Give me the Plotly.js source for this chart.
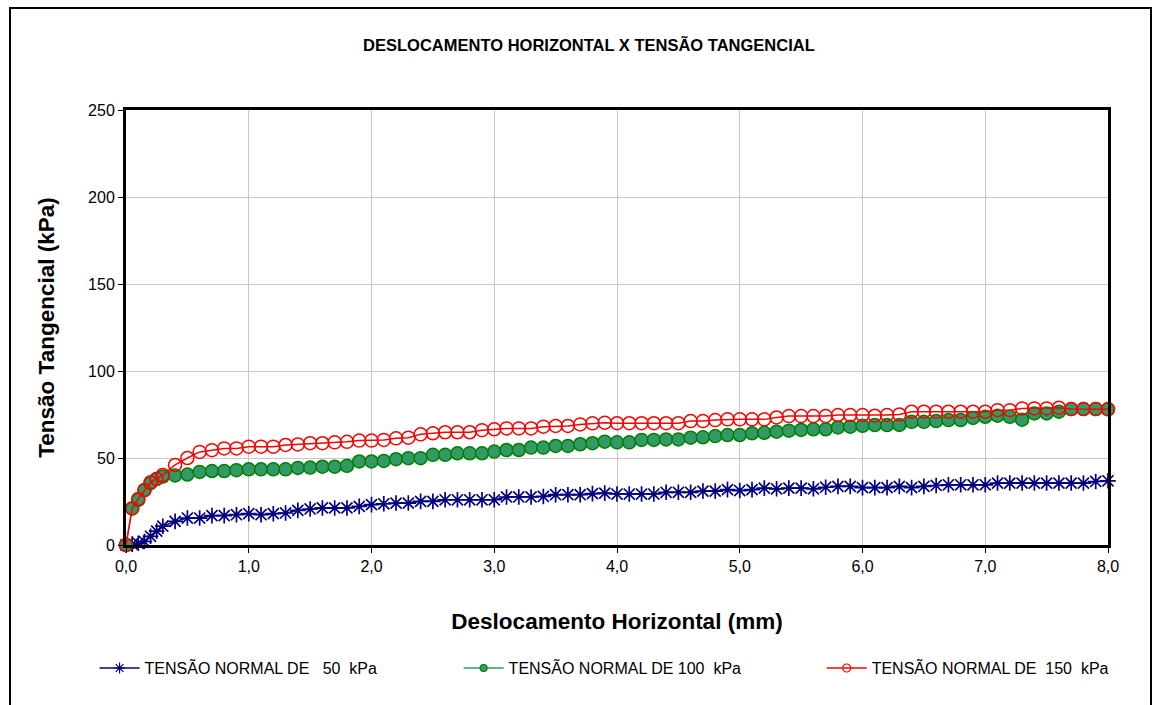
<!DOCTYPE html>
<html>
<head>
<meta charset="utf-8">
<script src="https://cdn.plot.ly/plotly-3.0.1.min.js"></script>
<style>
body{margin:0;padding:0;background:#fff;}
#chart{position:absolute;left:0;top:0;width:1157px;height:705px;}
#frame{position:absolute;left:9px;top:7px;width:1139px;height:710px;border:2px solid #000;pointer-events:none;}
</style>
</head>
<body>
<div id="chart"></div>
<div id="frame"></div>
<script>
var deslocamento = [0, 0.05, 0.1, 0.15, 0.2, 0.25, 0.3, 0.4, 0.5, 0.6, 0.7, 0.8, 0.9, 1.0,
  1.1, 1.2, 1.3, 1.4, 1.5, 1.6, 1.7, 1.8, 1.9, 2.0, 2.1, 2.2, 2.3, 2.4, 2.5, 2.6, 2.7, 2.8, 2.9, 3.0,
  3.1, 3.2, 3.3, 3.4, 3.5, 3.6, 3.7, 3.8, 3.9, 4.0, 4.1, 4.2, 4.3, 4.4, 4.5, 4.6, 4.7, 4.8, 4.9, 5.0,
  5.1, 5.2, 5.3, 5.4, 5.5, 5.6, 5.7, 5.8, 5.9, 6.0, 6.1, 6.2, 6.3, 6.4, 6.5, 6.6, 6.7, 6.8, 6.9, 7.0,
  7.1, 7.2, 7.3, 7.4, 7.5, 7.6, 7.7, 7.8, 7.9, 8.0];

var tensao50 = [0, 0.5, 1, 2, 5, 8, 10.8, 13.6, 15.5, 15.5, 16.9, 16.9, 17.4, 18,
  17.4, 18, 18.4, 19.9, 20.7, 21.3, 21.3, 21.3, 22.2, 23.2, 23.7, 24.1, 24.1, 25.1, 25.1, 26, 26, 26, 26, 26,
  27.6, 27.6, 27.6, 27.9, 28.9, 28.9, 28.9, 29.5, 29.8, 29.3, 29.3, 29.3, 29.3, 30.3, 30.3, 30.3, 31, 31, 31.8, 31.3,
  31.8, 32.7, 32.3, 32.7, 32.7, 32.3, 33.2, 33.7, 33.7, 33, 33, 33, 33.7, 33, 33.7, 34.2, 34.6, 34.6, 34.6, 34.6,
  35.6, 35.6, 35.6, 35.6, 35.6, 35.6, 35.6, 35.6, 36.5, 36.9];

var tensao100 = [0, 21, 26, 31.5, 35.5, 38, 39.3, 40, 40.5, 42, 42.5, 42.5, 43, 43.5,
  43.5, 43.5, 43.5, 44.3, 44.5, 45, 45, 45.5, 48, 48, 48.3, 49.3, 49.9, 49.9, 51.8, 51.8, 52.7, 52.7, 52.7, 53.7,
  54.6, 54.6, 56, 56, 56.9, 56.9, 57.9, 58.5, 59.4, 59, 59, 60.4, 60.4, 60.7, 60.7, 61.7, 61.9, 62.6, 63.2, 63.2,
  64.2, 64.5, 65.1, 65.7, 66.1, 66.5, 66.5, 67.6, 68, 68.5, 68.9, 68.9, 69, 70.8, 70.8, 71.2, 71.8, 71.8, 73, 73.7,
  74.3, 73.7, 72, 75.6, 75.6, 76.6, 78.1, 78.1, 78.1, 78.1];

var tensao150 = [0, 21, 26.5, 31.5, 36, 38, 40.3, 46, 50, 53.5, 54.5, 55.5, 55.5, 56.5,
  56.5, 56.5, 57.5, 57.8, 58.5, 58.5, 59, 59.3, 60, 60, 60.4, 61.3, 61.7, 63.6, 64.2, 64.8, 64.8, 64.8, 66, 66.5,
  67, 67, 67, 68, 68.4, 68.4, 69.3, 69.9, 70.3, 70, 70, 70, 70, 70, 70, 71.2, 71.2, 71.8, 72.2, 72.2,
  72.2, 72.2, 73.3, 74.1, 74.1, 74.1, 74.1, 74.7, 74.7, 74.7, 74.3, 74.7, 75, 76.6, 76.6, 76.6, 76.6, 76.6, 76.6, 76.6,
  77.5, 77.5, 78.5, 78.5, 78.5, 78.9, 78.1, 78.1, 78.1, 78];

var serieNomes = ['TENSÃO NORMAL DE\u00a0\u00a0 50\u00a0 kPa', 'TENSÃO NORMAL DE 100\u00a0 kPa', 'TENSÃO NORMAL DE\u00a0 150\u00a0 kPa'];
var xTickVals = [0, 1, 2, 3, 4, 5, 6, 7, 8];
var xTickText = ['0,0', '1,0', '2,0', '3,0', '4,0', '5,0', '6,0', '7,0', '8,0'];
var yTickVals = [0, 50, 100, 150, 200, 250];

var FONT = 'Liberation Sans, Arial, sans-serif';

var estilos = [
  {line: {color: '#000080', width: 1.5}, symbol: 'asterisk-open', fill: '#000080', edge: '#000080', legSize: 9, size: 13, lw: 1.7},
  {line: {color: '#339966', width: 1.5}, symbol: 'circle', fill: '#339966', edge: '#008000', legSize: 7, size: 13, lw: 1.5},
  {line: {color: '#FF0000', width: 1.5}, symbol: 'circle-open', fill: '#FF0000', edge: '#FF0000', legSize: 8, size: 13, lw: 1.5}
];
var series = [tensao50, tensao100, tensao150];
var legendas = ['legend', 'legend2', 'legend3'];

var traces = [];
series.forEach(function (ys, i) {
  var s = estilos[i];
  traces.push({x: deslocamento, y: ys, name: serieNomes[i], type: 'scatter', mode: 'lines+markers',
    showlegend: false, line: s.line,
    marker: {symbol: s.symbol, size: s.size, color: s.fill, line: {color: s.edge, width: s.lw}},
    cliponaxis: false});
});
series.forEach(function (ys, i) {
  var s = estilos[i];
  traces.push({x: [null], y: [null], name: serieNomes[i], type: 'scatter', mode: 'lines+markers',
    legend: legendas[i], showlegend: true, line: s.line,
    marker: {symbol: s.symbol, size: s.legSize, color: s.fill, line: {color: s.edge, width: 1.2}}});
});

function legendAt(xp) {
  return {orientation: 'h', x: xp, xanchor: 'left', y: -0.283, yanchor: 'middle',
          font: {size: 16}, itemwidth: 40, bgcolor: 'rgba(0,0,0,0)'};
}

var layout = {
  width: 1157, height: 705,
  margin: {l: 126, r: 49, t: 110, b: 160},
  paper_bgcolor: '#ffffff', plot_bgcolor: '#ffffff',
  font: {family: FONT, color: '#000000', size: 16},
  title: {text: '<b>DESLOCAMENTO HORIZONTAL X TENSÃO TANGENCIAL</b>', font: {family: FONT, size: 16.5, color: '#000'},
          x: 0.509, xref: 'container', xanchor: 'center', y: 0.936, yref: 'container', yanchor: 'middle'},
  xaxis: {range: [0, 8], tickvals: xTickVals, ticktext: xTickText, showgrid: true, gridcolor: '#c8c8c8', gridwidth: 1,
          zeroline: false, showline: true, linecolor: '#000', linewidth: 3, mirror: true,
          ticks: 'outside', ticklen: 5, tickwidth: 1, tickcolor: '#000', tickfont: {size: 16},
          title: {text: '<b>Deslocamento Horizontal (mm)</b>', font: {size: 22.5}, standoff: 40}},
  yaxis: {range: [0, 250], tickvals: yTickVals, showgrid: true, gridcolor: '#c8c8c8', gridwidth: 1,
          zeroline: false, showline: true, linecolor: '#000', linewidth: 3, mirror: true,
          ticks: 'outside', ticklen: 5, tickwidth: 1, tickcolor: '#000', tickfont: {size: 16},
          title: {text: '<b>Tensão Tangencial (kPa)</b>', font: {size: 22.5}, standoff: 28}},
  showlegend: true,
  legend: legendAt(-0.032),
  legend2: legendAt(0.3387),
  legend3: legendAt(0.7084)
};

Plotly.newPlot('chart', traces, layout, {displayModeBar: false, staticPlot: true});
</script>
</body>
</html>
